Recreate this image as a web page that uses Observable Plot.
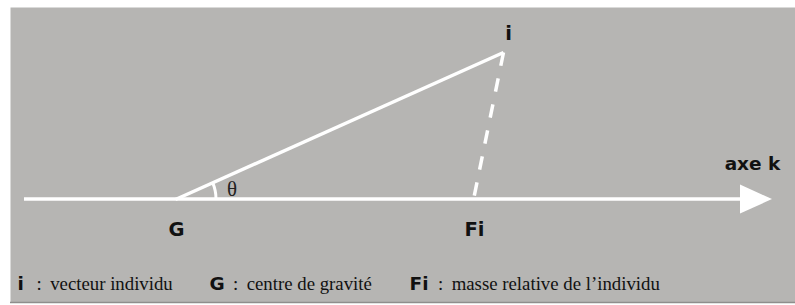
<!DOCTYPE html>
<html>
<head>
<meta charset="utf-8">
<script src="https://cdn.jsdelivr.net/npm/d3@7"></script>
<script src="https://cdn.jsdelivr.net/npm/@observablehq/plot@0.6"></script>
<style>
  html, body { margin: 0; padding: 0; background: #ffffff; }
  #chart svg { display: block; }
</style>
</head>
<body>
<div id="chart"></div>
<script>
// ---- data (diagram units: G at origin, axe k along y = 0) ----
const pointNames = ["G", "i", "Fi"];
const pointX = [0, 3.28, 2.98];
const pointY = [0, 1.47, 0];
const axisLabel = "axe k";
const axisStartX = -1.51;
const axisTipX = 5.97;
const angleLabel = "θ";
const legendKeys = ["i", "G", "Fi"];
const legendTexts = ["vecteur individu", "centre de gravité", "masse relative de l’individu"];

const pts = pointNames.map((n, k) => ({name: n, x: pointX[k], y: pointY[k]}));
const P = Object.fromEntries(pts.map(d => [d.name, d]));

const bg = "#b6b5b3";
const sans = "'DejaVu Sans', Verdana, sans-serif";
const serif = "'Liberation Serif', 'Times New Roman', serif";
const ink = "#111111";

// custom mark: axis line + filled arrowhead, angle arc, bottom border
function decorations(index, scales, values, dim) {
  const g = d3.create("svg:g");
  const y0 = scales.y(0);
  const xs = scales.x(axisStartX), xt = scales.x(axisTipX);
  const headLen = 32, headHalf = 14.5;
  g.append("line")
    .attr("x1", xs).attr("x2", xt - headLen + 1)
    .attr("y1", y0).attr("y2", y0)
    .attr("stroke", "white").attr("stroke-width", 3.5);
  g.append("path")
    .attr("d", `M${xt},${y0}L${xt - headLen},${y0 - headHalf}L${xt - headLen},${y0 + headHalf}Z`)
    .attr("fill", "white");
  // angle arc at G between axis and G->i
  const gx = scales.x(P.G.x), gy = scales.y(P.G.y);
  const ix = scales.x(P.i.x), iy = scales.y(P.i.y);
  const th = Math.atan2(gy - iy, ix - gx);
  const r = 41;
  g.append("path")
    .attr("d", `M${gx + r},${gy}A${r},${r} 0 0 0 ${gx + r * Math.cos(th)},${gy - r * Math.sin(th)}`)
    .attr("fill", "none").attr("stroke", "white").attr("stroke-width", 3);
  // bottom border of the panel
  const yb = dim.height - dim.marginBottom;
  g.append("line")
    .attr("x1", dim.marginLeft).attr("x2", dim.width - dim.marginRight)
    .attr("y1", yb + 0.5).attr("y2", yb + 0.5)
    .attr("stroke", "#8e8e8c").attr("stroke-width", 1.5);
  return g.node();
}

const legendKeyDx = [7, 199, 399];
const legendTextDx = [26, 222.5, 427.5];

const legendMarks = legendKeys.flatMap((k, j) => [
  Plot.text([k], {frameAnchor: "bottom-left", text: d => d, dx: legendKeyDx[j], dy: -13,
    textAnchor: "start", fontFamily: sans, fontWeight: "bold", fontSize: 18.5, fill: ink}),
  Plot.text([legendTexts[j]], {frameAnchor: "bottom-left", text: d => ":\u00a0\u2009" + d, dx: legendTextDx[j], dy: -13,
    textAnchor: "start", fontFamily: serif, fontSize: 18.8, fill: ink})
]);

const chart = Plot.plot({
  width: 795,
  height: 305,
  marginLeft: 10,
  marginRight: 0,
  marginTop: 7,
  marginBottom: 3,
  x: {domain: [-1.65, 6.2], axis: null},
  y: {domain: [-1.03, 1.92], axis: null},
  style: {background: "white", overflow: "visible"},
  marks: [
    Plot.frame({fill: bg, stroke: "none"}),
    decorations,
    Plot.link([P.G], {x1: "x", y1: "y", x2: () => P.i.x, y2: () => P.i.y,
      stroke: "white", strokeWidth: 3.5}),
    Plot.link([P.i], {x1: "x", y1: "y", x2: () => P.Fi.x, y2: () => P.Fi.y,
      stroke: "white", strokeWidth: 3.5, strokeDasharray: "13.5,13"}),
    // point labels
    Plot.text([P.G, P.Fi], {x: "x", y: "y", text: "name", dx: 1, dy: 30,
      fontFamily: sans, fontWeight: "bold", fontSize: 19.5, fill: ink}),
    Plot.text([P.i], {x: "x", y: "y", text: "name", dx: 5, dy: -18.5,
      fontFamily: sans, fontWeight: "bold", fontSize: 19.5, fill: ink}),
    Plot.text([axisLabel], {x: () => axisTipX, y: () => 0, text: d => d, dx: -20, dy: -35,
      fontFamily: sans, fontWeight: "bold", fontSize: 18.5, fill: ink}),
    Plot.text([angleLabel], {x: () => P.G.x, y: () => P.G.y, text: d => d, dx: 56.5, dy: -10.5,
      fontFamily: serif, fontSize: 21, fill: "#222"}),
    ...legendMarks
  ]
});

document.getElementById("chart").append(chart);
</script>
</body>
</html>
